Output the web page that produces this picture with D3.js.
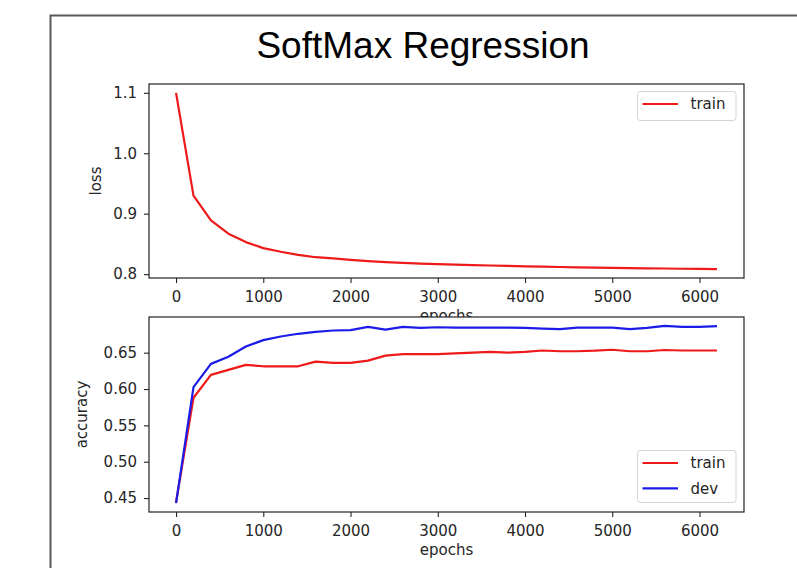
<!DOCTYPE html>
<html>
<head>
<meta charset="utf-8">
<script src="https://cdn.jsdelivr.net/npm/d3@7"></script>
<style>
  body { margin: 0; background: #fff; }
  text { font-family: "DejaVu Sans", sans-serif; }
</style>
</head>
<body>
<div id="chart"></div>
<script>
// data
const epochs = [0, 200, 400, 600, 800, 1000, 1200, 1400, 1600, 1800, 2000, 2200, 2400, 2600, 2800, 3000,
  3200, 3400, 3600, 3800, 4000, 4200, 4400, 4600, 4800, 5000, 5200, 5400, 5600, 5800, 6000, 6200];

const trainLoss = [1.100, 0.930, 0.889, 0.867, 0.853, 0.843, 0.837, 0.832, 0.828, 0.826, 0.8235, 0.8215,
  0.820, 0.8185, 0.8175, 0.8165, 0.8158, 0.815, 0.8143, 0.8137, 0.8130, 0.8124, 0.8118, 0.8113,
  0.8108, 0.8104, 0.8100, 0.8096, 0.8093, 0.8089, 0.8086, 0.8082];

const trainAcc = [0.444, 0.588, 0.6195, 0.6263, 0.6332, 0.6313, 0.6313, 0.6313, 0.6377, 0.636, 0.636, 0.639,
  0.646, 0.648, 0.648, 0.648, 0.649, 0.650, 0.651, 0.650, 0.651, 0.653, 0.652, 0.652,
  0.6527, 0.654, 0.652, 0.652, 0.6537, 0.653, 0.653, 0.653];

const devAcc = [0.443, 0.6026, 0.6346, 0.6445, 0.6586, 0.6673, 0.6723, 0.676, 0.6787, 0.6805, 0.681, 0.6855,
  0.6818, 0.6855, 0.6842, 0.685, 0.6846, 0.6846, 0.6846, 0.6846, 0.6842, 0.6832, 0.6823, 0.6846,
  0.6846, 0.6846, 0.6823, 0.6842, 0.6869, 0.6855, 0.6855, 0.6865];

const xTicks = [0, 1000, 2000, 3000, 4000, 5000, 6000];
const lossTicks = [0.8, 0.9, 1.0, 1.1];
const accTicks = [0.45, 0.50, 0.55, 0.60, 0.65];

const W = 797, H = 568;
const RED = "#ee1a1a", BLUE = "#1c1ce8";

let svg = d3.select("#chart")
  .append("svg")
  .attr("width", W)
  .attr("height", H);

// slide frame
svg.append("path")
  .attr("d", "M50.5," + H + "V15.5H" + W)
  .attr("fill", "none")
  .attr("stroke", "#5a5a5a")
  .attr("stroke-width", 2);

// title
svg.append("text")
  .attr("x", 423)
  .attr("y", 58)
  .attr("text-anchor", "middle")
  .style("font-family", "'Liberation Sans', Arial, sans-serif")
  .style("font-size", "37px")
  .style("fill", "#000")
  .text("SoftMax Regression");

// matplotlib style 5% padding on a domain
function padded(values) {
  let lo = d3.min(values), hi = d3.max(values), p = (hi - lo) * 0.05;
  return [lo - p, hi + p];
}

let left = 149, right = 744;

let x = d3.scaleLinear()
  .domain(padded(epochs))
  .range([left, right]);

function drawPanel(box, yDomain, yTicks, fmt, series, yLabel, yLabelX, legendBox) {
  let g = svg.append("g");

  // white background, covers the xlabel of the panel above
  g.append("rect")
    .attr("x", left).attr("y", box.top)
    .attr("width", right - left).attr("height", box.bottom - box.top)
    .attr("fill", "#fff");

  let y = d3.scaleLinear()
    .domain(yDomain)
    .range([box.bottom, box.top]);

  // x axis
  let xa = g.append("g")
    .attr("transform", "translate(0," + box.bottom + ")")
    .call(d3.axisBottom(x).tickValues(xTicks).tickSize(5).tickPadding(8.4).tickFormat(d3.format("d")));
  xa.select(".domain").remove();

  // y axis
  let ya = g.append("g")
    .attr("transform", "translate(" + left + ",0)")
    .call(d3.axisLeft(y).tickValues(yTicks).tickSize(5).tickPadding(7).tickFormat(fmt));
  ya.select(".domain").remove();

  g.selectAll(".tick line").attr("stroke", "#222").attr("stroke-width", 1.1);
  g.selectAll(".tick text")
    .style("font-family", "'DejaVu Sans', sans-serif")
    .style("font-size", "15px")
    .attr("fill", "#262626");

  // lines
  let line = d3.line()
    .x((d, i) => x(epochs[i]))
    .y(d => y(d));

  series.forEach(s => {
    g.append("path")
      .datum(s.values)
      .attr("d", line)
      .attr("fill", "none")
      .attr("stroke", s.color)
      .attr("stroke-width", 2.2)
      .attr("stroke-linejoin", "round");
  });

  // spines
  g.append("rect")
    .attr("x", left).attr("y", box.top)
    .attr("width", right - left).attr("height", box.bottom - box.top)
    .attr("fill", "none")
    .attr("stroke", "#222")
    .attr("stroke-width", 1.2);

  // axis labels
  g.append("text")
    .attr("transform", "translate(" + yLabelX + "," + ((box.top + box.bottom) / 2) + ") rotate(-90)")
    .attr("text-anchor", "middle")
    .style("font-size", "15px")
    .attr("fill", "#262626")
    .text(yLabel);

  g.append("text")
    .attr("x", (left + right) / 2)
    .attr("y", box.bottom + 43)
    .attr("text-anchor", "middle")
    .style("font-size", "15px")
    .attr("fill", "#262626")
    .text("epochs");

  // legend
  let lg = g.append("g");
  lg.append("rect")
    .attr("x", legendBox.x).attr("y", legendBox.y)
    .attr("width", legendBox.w).attr("height", legendBox.h)
    .attr("rx", 3)
    .attr("fill", "#fff")
    .attr("fill-opacity", 0.8)
    .attr("stroke", "#d4d4d4");

  series.forEach((s, i) => {
    let ly = legendBox.y + 12.5 + i * 25.4;
    lg.append("line")
      .attr("x1", legendBox.x + 5).attr("x2", legendBox.x + 40.5)
      .attr("y1", ly).attr("y2", ly)
      .attr("stroke", s.color)
      .attr("stroke-width", 2.2);
    lg.append("text")
      .attr("x", legendBox.x + 53)
      .attr("y", ly)
      .attr("dy", "0.35em")
      .style("font-size", "15px")
      .attr("fill", "#262626")
      .text(s.name);
  });
}

// top panel: loss
drawPanel({top: 84, bottom: 278}, padded(trainLoss), lossTicks, d3.format(".1f"),
  [{name: "train", values: trainLoss, color: RED}],
  "loss", 100.5,
  {x: 637.5, y: 91.5, w: 98.5, h: 29});

// bottom panel: accuracy
drawPanel({top: 317, bottom: 512}, padded(trainAcc.concat(devAcc)), accTicks, d3.format(".2f"),
  [{name: "train", values: trainAcc, color: RED}, {name: "dev", values: devAcc, color: BLUE}],
  "accuracy", 86.5,
  {x: 637.5, y: 450.5, w: 98.5, h: 52});
</script>
</body>
</html>
